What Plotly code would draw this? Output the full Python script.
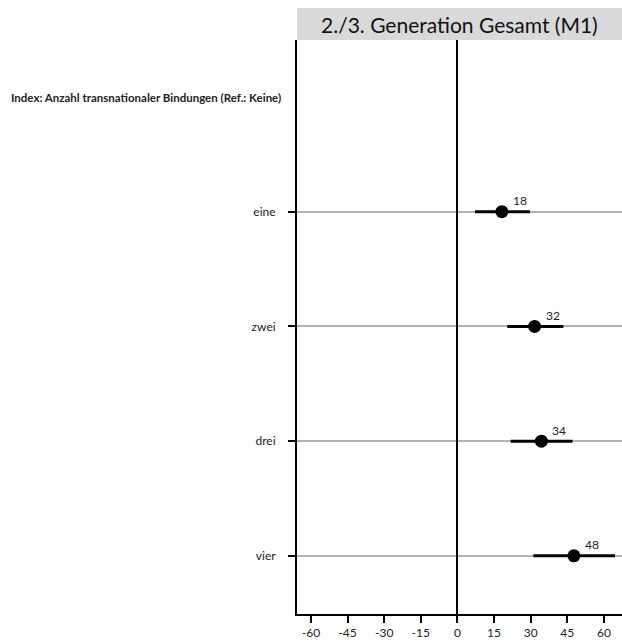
import plotly.graph_objects as go

categories = ["eine", "zwei", "drei", "vier"]
estimates = [18.2, 31.6, 34.4, 47.7]
ci_low = [7.2, 20.4, 21.8, 31.1]
ci_high = [29.7, 43.4, 47.1, 64.5]
value_labels = ["18", "32", "34", "48"]
header_label = "Index: Anzahl transnationaler Bindungen (Ref.: Keine)"
panel_title = "2./3. Generation Gesamt (M1)"
x_ticks = [-60, -45, -30, -15, 0, 15, 30, 45, 60]

ypos = [1, 2, 3, 4]
FONT = "Lato"

fig = go.Figure()

# confidence intervals
for y, lo, hi in zip(ypos, ci_low, ci_high):
    fig.add_trace(go.Scatter(x=[lo, hi], y=[y, y], mode="lines",
                             line=dict(color="black", width=3),
                             showlegend=False, hoverinfo="skip"))

fig.add_trace(go.Scatter(x=estimates, y=ypos, mode="markers",
                         marker=dict(color="black", size=13),
                         showlegend=False))

for y, v, t in zip(ypos, estimates, value_labels):
    fig.add_annotation(x=v, y=y, text=t, showarrow=False,
                       xshift=18, yshift=11,
                       font=dict(family=FONT, size=12, color="#222"))

fig.add_annotation(xref="paper", yref="y", x=-0.043, y=0, text="<b>" + header_label + "</b>",
                   showarrow=False, xanchor="right",
                   font=dict(family=FONT, size=11.5, color="#222"))

# title strip
fig.add_shape(type="rect", xref="paper", yref="paper", x0=0, x1=1.01, y0=1, y1=1 + 32 / 574,
              fillcolor="#d9d9d9", line=dict(width=0), layer="below")
fig.add_annotation(xref="paper", yref="paper", x=0.5, y=1 + 16 / 574, text=panel_title,
                   showarrow=False, xanchor="center", yanchor="middle",
                   font=dict(family=FONT, size=21, color="#111"))

fig.update_layout(
    width=622, height=641,
    margin=dict(l=297, r=0, t=40, b=27),
    paper_bgcolor="white", plot_bgcolor="white",
    font=dict(family=FONT, size=12, color="#222"),
    xaxis=dict(range=[-65.7, 67.4], tickvals=x_ticks, ticktext=[str(t) for t in x_ticks],
               showgrid=False, zeroline=True, zerolinecolor="black", zerolinewidth=2,
               showline=True, linecolor="black", linewidth=2,
               ticks="outside", ticklen=7, tickwidth=2, tickcolor="black",
               tickfont=dict(family=FONT, size=12)),
    yaxis=dict(range=[4.507, -0.497], tickvals=ypos, ticktext=categories,
               showgrid=True, gridcolor="#b3b3b3", gridwidth=2, zeroline=False,
               showline=True, linecolor="black", linewidth=2,
               ticks="outside", ticklen=7, tickwidth=2, tickcolor="black",
               ticklabelstandoff=10,
               tickfont=dict(family=FONT, size=12)),
)

fig.write_html("out.html", config={"displayModeBar": False},
               post_script="document.body.style.margin='0';document.body.style.padding='0';"
                           "document.body.style.overflow='hidden';")
